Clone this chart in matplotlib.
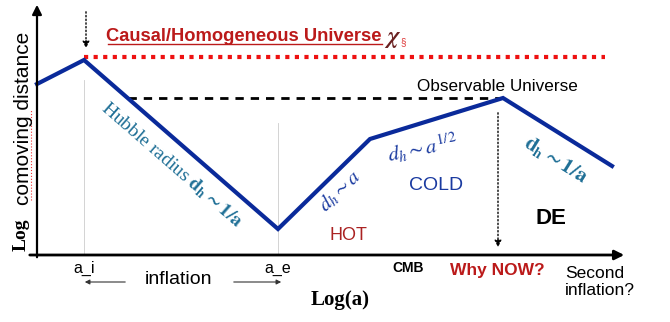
import matplotlib.pyplot as plt

plt.rcParams['font.family'] = ['Liberation Sans', 'DejaVu Sans']
plt.rcParams['mathtext.fontset'] = 'stix'

# Hubble radius track (x = log a, y = log comoving distance, arbitrary units)
log_a = [37, 84, 278, 370, 503, 612]
log_d = [238, 262, 93, 183, 224, 156]

# horizon levels
causal_level = 265
observable_level = 224
a_i, a_e, a_now = 84, 278, 498

fig = plt.figure(figsize=(6.7, 3.22), dpi=100)
ax = fig.add_axes([0, 0, 1, 1])
ax.set_xlim(0, 670)
ax.set_ylim(0, 322)
ax.axis('off')

# axes arrows
ax.annotate('', xy=(37, 320), xytext=(37, 62),
            arrowprops=dict(arrowstyle='-|>', color='black', lw=1.6, mutation_scale=14))
ax.annotate('', xy=(627, 67), xytext=(27, 67),
            arrowprops=dict(arrowstyle='-|>', color='black', lw=2, mutation_scale=14))

# thin grey markers at a_i and a_e
ax.plot([a_i, a_i], [67, 242], color='#cccccc', lw=0.6)
ax.plot([a_e, a_e], [67, 199], color='#cccccc', lw=0.6)

# horizons
ax.plot([a_i, 605], [causal_level, causal_level], color='#ee1111', lw=3, ls=(0, (1, 1.3)))
ax.plot([128, log_a[4]], [observable_level, observable_level], color='black', lw=2, ls=(0, (3, 2.5)))

# Hubble radius
ax.plot(log_a, log_d, color='#0a2a9a', lw=3, solid_joinstyle='miter')

# dotted arrows
ax.annotate('', xy=(86, 271), xytext=(86, 313),
            arrowprops=dict(arrowstyle='-|>', color='black', lw=1, ls=':', mutation_scale=10))
ax.annotate('', xy=(a_now, 72), xytext=(a_now, 212),
            arrowprops=dict(arrowstyle='-|>', color='black', lw=1, ls=':', mutation_scale=10))

# labels
ax.text(244, 286, 'Causal/Homogeneous Universe', color='#bb1a1a', fontsize=13.2,
        fontweight='bold', ha='center', va='center')
ax.plot([108, 382], [278, 278], color='#bb1a1a', lw=1)
ax.text(393, 283, r'$\boldsymbol{\chi}$', color='#6a2020', fontsize=17, ha='center', va='center')
ax.text(403, 280, '§', color='#dd3333', fontsize=7, ha='center', va='center')
ax.text(497, 236, 'Observable Universe', color='black', fontsize=12.3, ha='center', va='center')

ax.text(172, 157, r'Hubble radius $\mathbf{d_h \sim 1/a}$', color='#1f6f96',
        fontsize=14, family='Liberation Serif', rotation=-41, ha='center', va='center',
        rotation_mode='anchor')
ax.text(340, 131, r'$d_h \sim a$', color='#1a3aa0', fontsize=15, rotation=44,
        ha='center', va='center', rotation_mode='anchor')
ax.text(423, 174, r'$d_h \sim a^{1/2}$', color='#1a3aa0', fontsize=15, rotation=11,
        ha='center', va='center', rotation_mode='anchor')
ax.text(556, 162, r'$\mathbf{d_h \sim 1/a}$', color='#1f6f96', fontsize=15, rotation=-32,
        ha='center', va='center', rotation_mode='anchor')

ax.text(436, 137, 'COLD', color='#1a3aa0', fontsize=14, ha='center', va='center')
ax.text(348, 86, 'HOT', color='#aa2222', fontsize=13, ha='center', va='center')
ax.text(551, 104, 'DE', color='black', fontsize=16, fontweight='bold', ha='center', va='center')

ax.text(a_i, 54, 'a_i', fontsize=11.5, ha='center', va='center')
ax.text(a_e, 54, 'a_e', fontsize=11.5, ha='center', va='center')
ax.text(179, 42, 'inflation', fontsize=14, ha='center', va='center')
ax.annotate('', xy=(82, 40), xytext=(128, 40),
            arrowprops=dict(arrowstyle='-|>', color='#333333', lw=0.8, mutation_scale=7))
ax.annotate('', xy=(284, 40), xytext=(231, 40),
            arrowprops=dict(arrowstyle='-|>', color='#333333', lw=0.8, mutation_scale=7))
ax.text(408, 54, 'CMB', fontsize=10, fontweight='bold', ha='center', va='center')
ax.text(497, 51, 'Why NOW?', color='#bb1a1a', fontsize=12.5, fontweight='bold',
        ha='center', va='center')
ax.text(565, 40, 'Second\ninflation?', fontsize=12.5, ha='left', va='center', linespacing=1.15)

ax.text(340, 22, 'Log(a)', fontsize=15, fontweight='bold', family='Liberation Serif',
        ha='center', va='center')

# y label: "Log" serif bold + "comoving distance"
ax.text(21, 87, 'Log', fontsize=14, fontweight='bold', family='Liberation Serif',
        rotation=90, ha='center', va='center')
ax.text(24, 204, 'comoving distance', fontsize=15, rotation=90, ha='center', va='center')
ax.plot([31, 31], [122, 212], color='#ee3333', lw=0.8, ls=':')

fig.savefig('out.png', dpi=100)
